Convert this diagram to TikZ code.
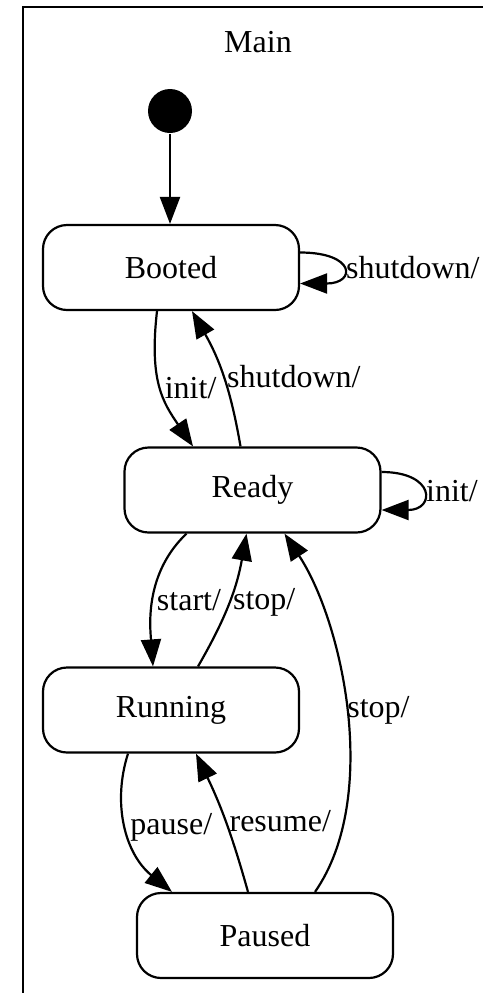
\documentclass[tikz,border=0pt]{standalone}
\usepackage{fontspec}
\setmainfont{Liberation Serif}
\usetikzlibrary{arrows.meta, positioning}
\tikzset{>={Triangle[length=13.5pt,width=10pt]}}

\begin{document}
\begin{tikzpicture}[x=0.5pt, y=-0.5pt, line width=1.1pt, font=\fontsize{16}{19}\selectfont,
  state/.style={draw, rounded corners=12pt, minimum width=128pt, minimum height=42.5pt},
  lbl/.style={right, inner sep=1.5pt}]
\useasboundingbox (0,0) rectangle (483,993);
\draw (23,993) -- (23,7) -- (483,7);
\node (main) at (258,42) {Main};
\node[circle, fill, minimum size=22pt, inner sep=0pt] (init) at (170,111) {};
\node[state] (booted) at (171,267.5) {Booted};
\node[state] (ready) at (252.5,490) {Ready};
\node[state] (running) at (171,710) {Running};
\node[state] (paused) at (265,935.5) {Paused};

\draw[->] (init) -- (init |- booted.north);
\draw[->] ([yshift=7.5pt]booted.east) .. controls +(56,0) and +(56,0) .. ([yshift=-8pt]booted.east) node[midway, lbl]{shutdown/};
\draw[->] ([yshift=9pt]ready.east) .. controls +(54,0) and +(54,0) .. ([yshift=-10pt]ready.east) node[midway, lbl]{init/};
\draw[->] ([xshift=-7pt]booted.south) .. controls +(-8,70) and +(-30,-44) .. ([xshift=-29.75pt]ready.north) node[midway, lbl]{init/};
\draw[->] ([xshift=-6pt]ready.north) to[bend right=10] node[lbl]{shutdown/} ([xshift=10.5pt]booted.south);
\draw[->] ([xshift=-33pt]ready.south) .. controls +(-42,40) and +(-3,-40) .. ([xshift=-9pt]running.north) node[midway, lbl]{start/};
\draw[->] ([xshift=13.5pt]running.north) to[bend right=10] node[lbl]{stop/} ([xshift=-3pt]ready.south);
\draw[->] ([xshift=25pt]paused.north) .. controls +(66,-95) and +(58,88) .. ([xshift=16pt]ready.south) node[midway, right, inner sep=0pt]{stop/};
\draw[->] ([xshift=-21.5pt]running.south) .. controls +(-16,50) and +(-47,-38) .. ([xshift=-46.5pt]paused.north) node[midway, lbl]{pause/};
\draw[->] ([xshift=-8.5pt]paused.north) to[bend right=5] node[lbl]{resume/} ([xshift=12.5pt]running.south);

\end{tikzpicture}
\end{document}
